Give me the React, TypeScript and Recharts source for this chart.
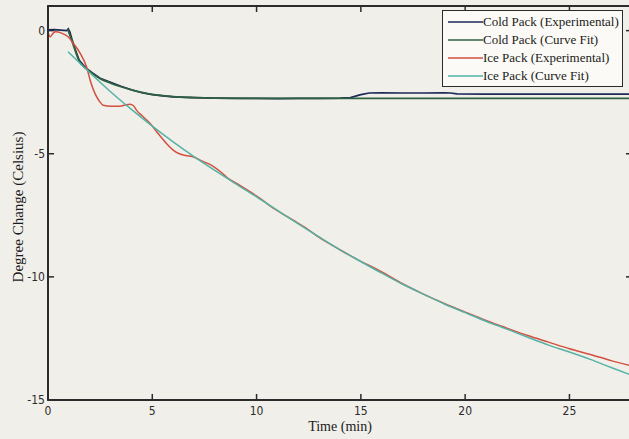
import React from 'react';
import { LineChart, Line, XAxis, YAxis, Legend, ReferenceArea, ReferenceLine } from 'recharts';

// Cold pack, measured
const coldExpTime = [0, 0.3, 0.6, 0.9, 0.97, 1.05, 1.15, 1.3, 1.5, 1.8, 2.1, 2.5, 3.0, 3.5, 4.0, 4.5, 5.0, 5.5, 6.0, 7.0, 8.0, 9.0, 10, 11, 12, 13, 14, 14.5, 15.0, 15.4, 16, 17, 18, 19, 19.3, 19.6, 21, 23, 25, 27, 28];
const coldExpTemp = [0.03, 0.04, 0.02, 0.0, 0.08, -0.05, -0.35, -0.75, -1.2, -1.5, -1.7, -1.93, -2.1, -2.26, -2.4, -2.52, -2.6, -2.65, -2.69, -2.72, -2.74, -2.75, -2.75, -2.76, -2.75, -2.75, -2.74, -2.72, -2.6, -2.53, -2.52, -2.53, -2.53, -2.52, -2.53, -2.57, -2.58, -2.58, -2.58, -2.58, -2.58];

// Cold pack, fitted curve
const coldFitTime = [0.95, 1.2, 1.5, 1.8, 2.1, 2.5, 3.0, 3.5, 4.0, 4.5, 5.0, 5.5, 6.0, 7.0, 8.0, 10, 12, 15, 20, 25, 28];
const coldFitTemp = [0.05, -0.55, -1.25, -1.52, -1.72, -1.95, -2.13, -2.28, -2.41, -2.51, -2.59, -2.64, -2.68, -2.72, -2.74, -2.75, -2.75, -2.75, -2.75, -2.75, -2.75];

// Ice pack, measured
const iceExpTime = [0, 0.1, 0.25, 0.35, 0.65, 0.96, 1.2, 1.53, 1.86, 2.05, 2.25, 2.45, 2.65, 3.0, 3.45, 3.7, 3.93, 4.1, 4.25, 4.5, 4.9, 5.3, 5.7, 6.0, 6.3, 6.6, 6.95, 7.4, 7.9, 8.3, 8.6, 9.2, 9.7, 10.2, 10.7, 11.2, 11.8, 12.3, 13, 14, 15, 15.5, 16, 17, 18, 19, 20, 21, 22, 23, 24, 25, 26, 27, 28];
const iceExpTemp = [-0.05, -0.25, -0.1, -0.05, -0.1, -0.25, -0.5, -0.9, -1.5, -2.1, -2.55, -2.85, -3.03, -3.07, -3.07, -3.02, -2.99, -3.05, -3.24, -3.45, -3.77, -4.2, -4.6, -4.85, -5.0, -5.07, -5.12, -5.3, -5.5, -5.75, -5.98, -6.28, -6.55, -6.83, -7.15, -7.42, -7.72, -7.98, -8.4, -8.9, -9.37, -9.58, -9.8, -10.28, -10.7, -11.08, -11.43, -11.77, -12.08, -12.38, -12.65, -12.92, -13.15, -13.4, -13.62];

// Ice pack, fitted curve
const iceFitTime = [0.96, 2, 3, 4, 5, 6, 7, 8, 9, 10, 11, 12, 13, 14, 15, 16, 17, 18, 19, 20, 21, 22, 23, 24, 25, 26, 27, 28];
const iceFitTemp = [-0.86, -1.7, -2.48, -3.2, -3.88, -4.52, -5.12, -5.68, -6.22, -6.75, -7.3, -7.85, -8.38, -8.9, -9.38, -9.85, -10.3, -10.7, -11.1, -11.45, -11.8, -12.12, -12.45, -12.77, -13.05, -13.35, -13.68, -14.0];

const xTicks = [0, 5, 10, 15, 20, 25];
const yTicks = [0, -5, -10, -15];
const xDomain = [0, 28];
const yDomain = [-15, 1];

const seriesNames = ['Cold Pack (Experimental)', 'Cold Pack (Curve Fit)', 'Ice Pack (Experimental)', 'Ice Pack (Curve Fit)'];
const seriesColors = ['#1d2a58', '#2f6040', '#d2503f', '#52b3a5'];
const seriesWidths = [1.6, 1.8, 1.5, 1.5];

const toRows = (ts: number[], vs: number[]) => ts.map((t, i) => ({ t, v: vs[i] }));

const seriesData = [
  toRows(coldExpTime, coldExpTemp),
  toRows(coldFitTime, coldFitTemp),
  toRows(iceExpTime, iceExpTemp),
  toRows(iceFitTime, iceFitTemp),
];

const INK = '#2b2b2b';
const tickFont = "'Liberation Sans Narrow', 'DejaVu Sans Condensed', sans-serif";
const serif = "'Liberation Serif', 'DejaVu Serif', serif";

// inward tick length in data units (about 6px)
const xTickLen = 0.29;
const yTickLen = 0.245;

const BottomLabel = ({ x, y, payload }: any) => (
  <text x={x} y={y + 15} textAnchor="middle" fontSize={12} fontFamily={tickFont} fill={INK}>
    {payload.value}
  </text>
);

const LeftLabel = ({ x, y, payload }: any) => (
  <text x={x - 3} y={y + 4} textAnchor="end" fontSize={12} fontFamily={tickFont} fill={INK}>
    {payload.value}
  </text>
);

const LegendBox = () => (
  <div
    style={{
      border: `1.5px solid ${INK}`,
      background: '#fbfaf6',
      padding: '2px 0 1px 0',
      fontFamily: serif,
      fontSize: 13,
      color: '#1a1a1a',
    }}
  >
    {seriesNames.map((name, i) => (
      <div key={name} style={{ display: 'flex', alignItems: 'center', height: 18 }}>
        <svg width={40} height={18} style={{ flex: 'none' }}>
          <line x1={5} x2={40} y1={9} y2={9} stroke={seriesColors[i]} strokeWidth={1.5} />
        </svg>
        <span style={{ whiteSpace: 'nowrap' }}>{name}</span>
      </div>
    ))}
  </div>
);

export default function App() {
  return (
    <div
      style={{
        position: 'absolute',
        left: 0,
        top: 0,
        width: 629,
        height: 439,
        overflow: 'hidden',
        background: '#f1efea',
      }}
    >
      <LineChart width={640} height={439} margin={{ top: 6, right: 8, bottom: 0, left: 0 }}>
        <XAxis
          type="number"
          dataKey="t"
          domain={xDomain}
          ticks={xTicks}
          allowDataOverflow
          height={39}
          tickLine={false}
          tickSize={0}
          tickMargin={0}
          tick={<BottomLabel />}
          axisLine={{ stroke: INK, strokeWidth: 1.8 }}
          label={{ value: 'Time (min)', position: 'insideBottom', offset: 8, fontFamily: serif, fontSize: 14, fill: '#1a1a1a' }}
        />
        <YAxis
          type="number"
          domain={yDomain}
          ticks={yTicks}
          allowDataOverflow
          width={48}
          tickLine={false}
          tickSize={0}
          tickMargin={0}
          tick={<LeftLabel />}
          axisLine={{ stroke: INK, strokeWidth: 1.8 }}
          label={{
            value: 'Degree Change (Celsius)',
            angle: -90,
            position: 'insideLeft',
            offset: 18,
            dy: 4,
            fontFamily: serif,
            fontSize: 15,
            fill: '#1a1a1a',
            style: { textAnchor: 'middle' },
          }}
        />
        {/* box frame round the plot */}
        <ReferenceArea x1={xDomain[0]} x2={xDomain[1]} y1={yDomain[0]} y2={yDomain[1]} fill="none" stroke={INK} strokeWidth={1.8} ifOverflow="visible" />
        {/* inward tick marks on all four sides */}
        {xTicks.map((t) => (
          <ReferenceLine key={'b' + t} segment={[{ x: t, y: yDomain[0] }, { x: t, y: yDomain[0] + yTickLen }]} stroke={INK} strokeWidth={1.5} ifOverflow="visible" />
        ))}
        {xTicks.map((t) => (
          <ReferenceLine key={'t' + t} segment={[{ x: t, y: yDomain[1] }, { x: t, y: yDomain[1] - yTickLen }]} stroke={INK} strokeWidth={1.5} ifOverflow="visible" />
        ))}
        {yTicks.map((v) => (
          <ReferenceLine key={'l' + v} segment={[{ x: xDomain[0], y: v }, { x: xDomain[0] + xTickLen, y: v }]} stroke={INK} strokeWidth={1.5} ifOverflow="visible" />
        ))}
        {yTicks.map((v) => (
          <ReferenceLine key={'r' + v} segment={[{ x: xDomain[1], y: v }, { x: xDomain[1] - xTickLen, y: v }]} stroke={INK} strokeWidth={1.5} ifOverflow="visible" />
        ))}
        <Legend
          layout="horizontal"
          verticalAlign="middle"
          align="center"
          content={<LegendBox />}
          wrapperStyle={{ top: 10, left: 442, width: 181, height: 'auto' }}
        />
        {seriesNames.map((name, i) => (
          <Line
            key={name}
            data={seriesData[i]}
            dataKey="v"
            name={name}
            stroke={seriesColors[i]}
            strokeWidth={seriesWidths[i]}
            dot={false}
            type={i === 0 ? 'linear' : 'monotone'}
            isAnimationActive={false}
          />
        ))}
      </LineChart>
    </div>
  );
}
